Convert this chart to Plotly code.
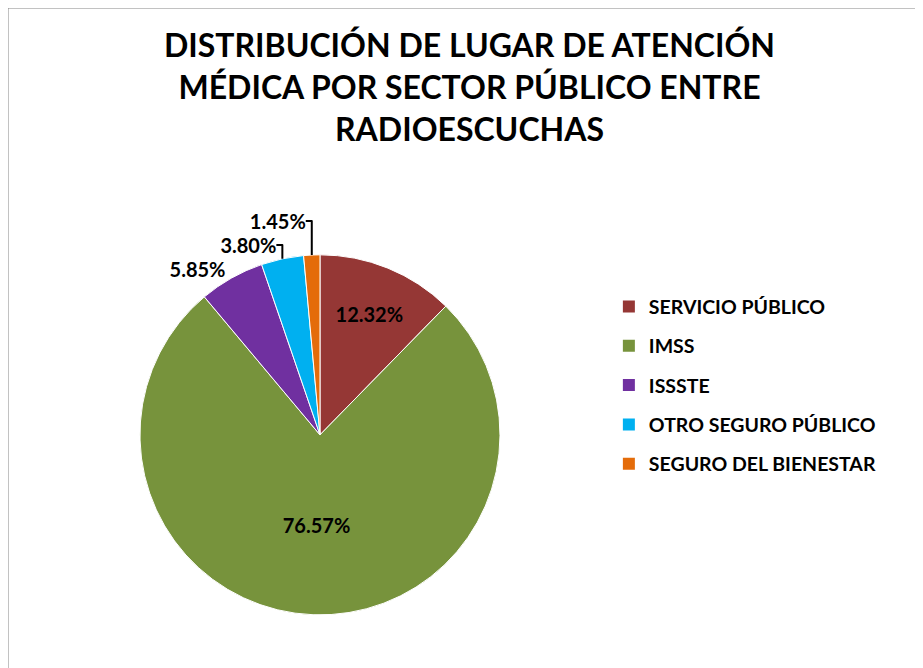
import plotly.graph_objects as go

# data
labels = ["SERVICIO PÚBLICO", "IMSS", "ISSSTE", "OTRO SEGURO PÚBLICO", "SEGURO DEL BIENESTAR"]
values = [12.32, 76.57, 5.85, 3.80, 1.45]
colors = ["#953735", "#77933C", "#7030A0", "#00B0F0", "#E46C0A"]
text_pos = ["inside", "inside", "outside", "outside", "outside"]

fig = go.Figure(go.Pie(
    labels=labels,
    values=values,
    sort=False,
    direction="clockwise",
    rotation=0,
    marker=dict(colors=colors, line=dict(color="white", width=1)),
    texttemplate="%{value:.2f}%",
    textposition=text_pos,
    textfont=dict(family="Lato", size=20, color="black", weight="bold"),
    insidetextorientation="horizontal",
    showlegend=False,
    domain=dict(x=[0.121, 0.555], y=[0.0915, 0.6305]),
))

# legend entries as separate traces so the spacing can be set
for lab, col in zip(labels, colors):
    fig.add_trace(go.Scatter(
        x=[None], y=[None], mode="markers", name=lab, legendgroup=lab,
        marker=dict(symbol="square", size=12, color=col),
    ))

fig.update_layout(
    width=923, height=668,
    margin=dict(l=0, r=0, t=0, b=0),
    paper_bgcolor="white",
    plot_bgcolor="white",
    font=dict(family="Lato", color="black"),
    xaxis=dict(visible=False),
    yaxis=dict(visible=False),
    title=dict(
        text="<b>DISTRIBUCIÓN DE LUGAR DE ATENCIÓN<br>MÉDICA POR SECTOR PÚBLICO ENTRE<br>RADIOESCUCHAS</b>",
        x=0.5, xanchor="center", y=0.926, yanchor="top",
        font=dict(family="Lato", size=32, color="black"),
    ),
    legend=dict(
        x=0.651, y=0.582, xanchor="left", yanchor="top",
        font=dict(family="Lato", size=19.5, color="black", weight="bold"),
        tracegroupgap=11,
    ),
    shapes=[dict(type="rect", xref="paper", yref="paper", x0=0, y0=0, x1=1, y1=1,
                 line=dict(color="#868686", width=1))],
)

fig.write_html("out.html")
